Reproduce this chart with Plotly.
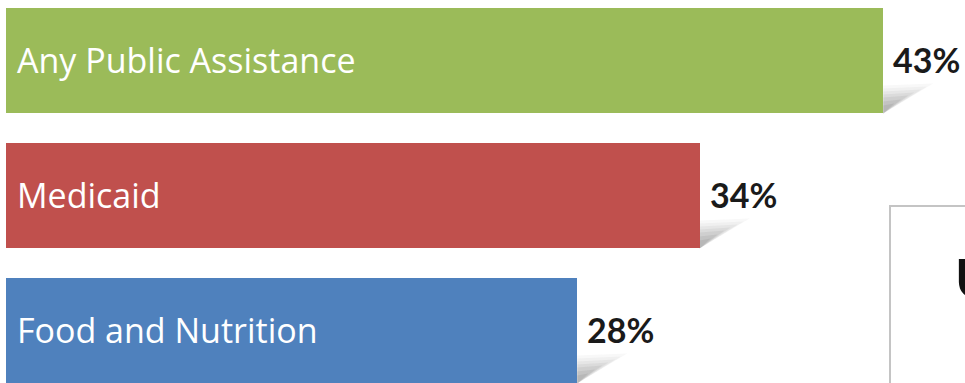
import plotly.graph_objects as go

# Share of households receiving each kind of support (%)
categories = ["Any Public Assistance", "Medicaid", "Food and Nutrition"]
values = [43, 34, 28]
value_labels = ["43%", "34%", "28%"]
colors = ["#9BBB59", "#C0504D", "#4F81BD"]

W, H = 965, 383
px_per_unit = 20.4           # horizontal scale, pixels per percentage point
x_left_px = 6                # pixel position of 0%
row_px = 135                 # vertical pitch between bars
first_center_px = 60.5
bar_width = 0.785

x_range = [-x_left_px / px_per_unit, (W - x_left_px) / px_per_unit]
y_range = [(H - first_center_px) / row_px, -first_center_px / row_px]

fig = go.Figure()
fig.add_trace(go.Bar(
    x=values,
    y=categories,
    orientation="h",
    width=bar_width,
    marker=dict(color=colors, line=dict(width=0)),
    hoverinfo="skip",
))

annotations = []
shapes = []
for i, (cat, val, lab) in enumerate(zip(categories, values, value_labels)):
    # category name inside the bar
    annotations.append(dict(
        x=0, y=cat, xref="x", yref="y", text=cat, showarrow=False,
        xanchor="left", yanchor="middle", xshift=9, yshift=1,
        font=dict(family="Open Sans", size=34, color="white"),
    ))
    # value label just past the bar end
    annotations.append(dict(
        x=val, y=cat, xref="x", yref="y", text="<b>" + lab + "</b>",
        showarrow=False, xanchor="left", yanchor="middle", xshift=8, yshift=1,
        font=dict(family="Lato", size=34, color="#1a1a1a"),
    ))
    # soft curled shadow at the end of each bar
    y_bottom = i + bar_width / 2
    for h, L, op in [(28, 50, 0.035), (25, 44, 0.045), (22, 38, 0.055),
                     (19, 31, 0.065), (16, 25, 0.075), (12, 18, 0.085), (8, 11, 0.09)]:
        x0 = val
        x1 = val + L / px_per_unit
        ya = y_bottom
        yb = y_bottom - h / row_px
        yc = y_bottom - (h + 2) / row_px
        path = f"M {x0},{ya} L {x0},{yb} L {x1},{yc} Z"
        shapes.append(dict(type="path", path=path, xref="x", yref="y",
                           fillcolor=f"rgba(70,70,70,{op})", line=dict(width=0),
                           layer="below"))

# framed panel on the right edge
shapes.append(dict(type="rect", xref="paper", yref="paper",
                   x0=890 / W, x1=1.05, y0=-0.05, y1=1 - 206 / H,
                   line=dict(color="#c4c4c4", width=2), fillcolor="white",
                   layer="below"))
annotations.append(dict(
    x=953 / W, y=1 - 277 / H, xref="paper", yref="paper", text="<b>U</b>",
    showarrow=False, xanchor="left", yanchor="middle",
    font=dict(family="Lato", size=54, color="#111111"),
))

fig.update_layout(
    width=W, height=H,
    margin=dict(l=0, r=0, t=0, b=0),
    paper_bgcolor="white", plot_bgcolor="white",
    showlegend=False,
    xaxis=dict(range=x_range, visible=False, fixedrange=True),
    yaxis=dict(range=y_range, visible=False, type="category", fixedrange=True),
    annotations=annotations,
    shapes=shapes,
    bargap=0,
)

fig.write_html("out.html", config={"displayModeBar": False})
